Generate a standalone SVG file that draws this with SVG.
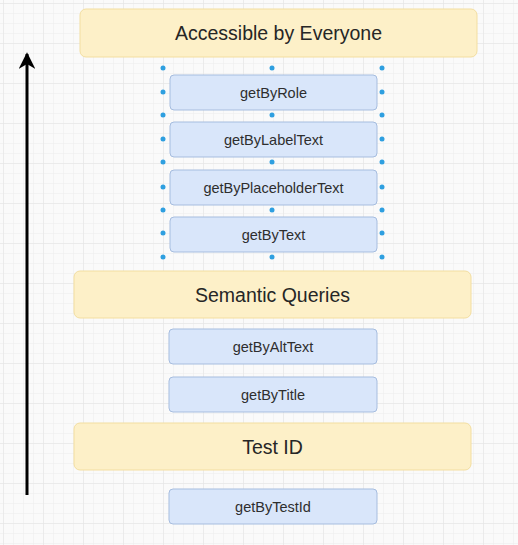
<svg xmlns="http://www.w3.org/2000/svg" width="518" height="545" viewBox="0 0 518 545">
  <defs>
    <pattern id="grid" width="10" height="10" patternUnits="userSpaceOnUse" x="3" y="3">
      <path d="M10 0H0V10" fill="none" stroke="#ececec" stroke-width="1"/>
    </pattern>
    <pattern id="gridMajor" width="40" height="40" patternUnits="userSpaceOnUse" x="3" y="3">
      <path d="M40 0H0V40" fill="none" stroke="#e4e4e4" stroke-width="1"/>
    </pattern>
    <marker id="head" viewBox="0 0 10 10" refX="9" refY="5" markerWidth="6" markerHeight="5.5" orient="auto" markerUnits="strokeWidth">
      <path d="M0 0L10 5L0 10L3 5Z" fill="#000"/>
    </marker>
  </defs>
  <style>
    .tier rect { fill: #fdf0c8; stroke: #f3dea0; stroke-width: 1; }
    .tier text { font-family: "Liberation Sans", Arial, sans-serif; font-size: 19.5px; fill: #262626; text-anchor: middle; }
    .query rect { fill: #d9e6fa; stroke: #a6bddf; stroke-width: 1; }
    .query text { font-family: "Liberation Sans", Arial, sans-serif; font-size: 14.5px; fill: #2e2e2e; text-anchor: middle; }
    .handle { fill: #2e9fe0; }
  </style>

  <rect width="518" height="545" fill="#fafafa"/>
  <rect width="518" height="545" fill="url(#grid)"/>
  <rect width="518" height="545" fill="url(#gridMajor)"/>

  <!-- tiers -->
  <g id="tier-accessible" class="tier">
    <rect x="80" y="9" width="397" height="48" rx="6"/>
    <text x="278.5" y="40">Accessible by Everyone</text>
  </g>
  <g id="tier-semantic" class="tier">
    <rect x="74" y="271" width="397" height="47" rx="6"/>
    <text x="272.5" y="301.5">Semantic Queries</text>
  </g>
  <g id="tier-testid" class="tier">
    <rect x="74" y="423" width="397" height="47" rx="6"/>
    <text x="272.5" y="453.5">Test ID</text>
  </g>

  <!-- queries -->
  <g id="q-role" class="query">
    <rect x="170" y="75" width="207" height="35" rx="4"/>
    <text x="273.5" y="97.5">getByRole</text>
  </g>
  <g id="q-label" class="query">
    <rect x="170" y="122" width="207" height="35" rx="4"/>
    <text x="273.5" y="144.5">getByLabelText</text>
  </g>
  <g id="q-placeholder" class="query">
    <rect x="170" y="170" width="207" height="35" rx="4"/>
    <text x="273.5" y="192.5">getByPlaceholderText</text>
  </g>
  <g id="q-text" class="query">
    <rect x="170" y="217" width="207" height="35" rx="4"/>
    <text x="273.5" y="239.5">getByText</text>
  </g>
  <g id="q-alt" class="query">
    <rect x="169" y="329" width="208" height="35" rx="4"/>
    <text x="273" y="351.5">getByAltText</text>
  </g>
  <g id="q-title" class="query">
    <rect x="169" y="377" width="208" height="35" rx="4"/>
    <text x="273" y="399.5">getByTitle</text>
  </g>
  <g id="q-testid" class="query">
    <rect x="169" y="489" width="208" height="35" rx="4"/>
    <text x="273" y="511.5">getByTestId</text>
  </g>

  <!-- selection handles around the accessible queries -->
  <g id="selection" class="handle">
    <circle cx="163" cy="68" r="2.5"/><circle cx="272" cy="68" r="2.5"/><circle cx="382" cy="68" r="2.5"/>
    <circle cx="163" cy="92" r="2.5"/><circle cx="382" cy="92" r="2.5"/>
    <circle cx="163" cy="115" r="2.5"/><circle cx="272" cy="115" r="2.5"/><circle cx="382" cy="115" r="2.5"/>
    <circle cx="163" cy="139" r="2.5"/><circle cx="382" cy="139" r="2.5"/>
    <circle cx="163" cy="162" r="2.5"/><circle cx="272" cy="162" r="2.5"/><circle cx="382" cy="162" r="2.5"/>
    <circle cx="163" cy="187" r="2.5"/><circle cx="382" cy="187" r="2.5"/>
    <circle cx="163" cy="210" r="2.5"/><circle cx="272" cy="210" r="2.5"/><circle cx="382" cy="210" r="2.5"/>
    <circle cx="163" cy="233" r="2.5"/><circle cx="382" cy="233" r="2.5"/>
    <circle cx="163" cy="257" r="2.5"/><circle cx="272" cy="257" r="2.5"/><circle cx="382" cy="257" r="2.5"/>
  </g>

  <!-- priority arrow -->
  <g id="connectors">
    <line x1="27" y1="495" x2="27" y2="54" stroke="#000" stroke-width="3" marker-end="url(#head)"/>
  </g>
</svg>
